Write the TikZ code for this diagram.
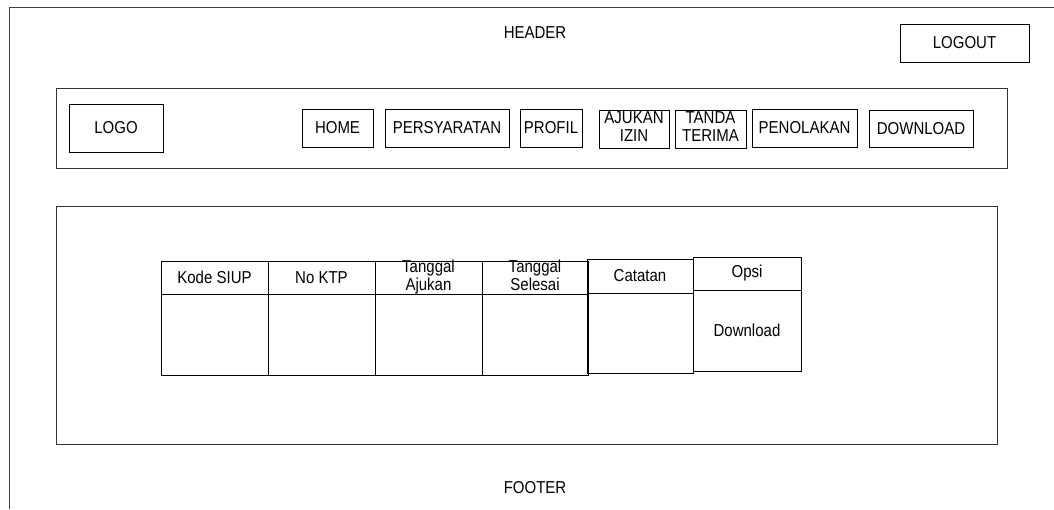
\documentclass[tikz,border=0pt]{standalone}
\usepackage{fontspec}
\setmainfont{Liberation Sans}
\newcommand{\vs}[1]{\scalebox{1}[1.15]{#1}}
\newcommand{\vt}[2]{\scalebox{1}[1.15]{\begin{tabular}{@{}c@{}}#1\\#2\end{tabular}}}
\tikzset{
  box/.style={draw=black, line width=0.9pt, inner sep=0pt, rectangle},
  lbl/.style={inner sep=0pt},
  twoline/.style={label={[lbl]center:#1}},
}
\begin{document}
\begin{tikzpicture}[x=1pt,y=-1pt,font=\fontsize{15}{15}\selectfont]
\useasboundingbox (0,0) rectangle (1054,509);
% outer frame
\draw[line width=0.9pt, draw=black!75] (9,509) -- (9,7) -- (1054,7);
\node[lbl] (header) at (535,33) {\vs{HEADER}};
\node[box, minimum width=129pt, minimum height=38pt] (logout) at (964.5,43) {\vs{LOGOUT}};
% nav bar
\node[box, draw=black!80, minimum width=951pt, minimum height=80pt] (nav) at (531.5,128) {};
\node[box, minimum width=94pt, minimum height=48pt] (logo) at (116,128) {\vs{LOGO}};
\node[box, minimum width=71pt, minimum height=38pt] (home) at (337.5,128) {\vs{HOME}};
\node[box, minimum width=124pt, minimum height=38pt] (pers) at (447,128) {\vs{PERSYARATAN}};
\node[box, minimum width=62pt, minimum height=38pt] (profil) at (551,128) {\vs{PROFIL}};
\node[box, minimum width=70pt, minimum height=38pt, twoline={\vt{AJUKAN}{IZIN}}] (ajukan) at (634,129) {};
\node[box, minimum width=71pt, minimum height=38pt, twoline={\vt{TANDA}{TERIMA}}] (tanda) at (710.5,129) {};
\node[box, minimum width=105pt, minimum height=38pt] (tolak) at (804.5,128) {\vs{PENOLAKAN}};
\node[box, minimum width=104pt, minimum height=37pt] (down) at (921,128.5) {\vs{DOWNLOAD}};
% content
\node[box, draw=black!80, minimum width=941pt, minimum height=238pt] (content) at (526.5,325) {};
% table
\node[box, minimum width=107pt, minimum height=33pt] (h1) at (214.5,277.5) {\vs{Kode SIUP}};
\node[box, minimum width=107pt, minimum height=81pt] (b1) at (214.5,334.5) {};
\node[box, minimum width=107pt, minimum height=33pt] (h2) at (321.5,277.5) {\vs{No KTP}};
\node[box, minimum width=107pt, minimum height=81pt] (b2) at (321.5,334.5) {};
\node[box, minimum width=107pt, minimum height=33pt, twoline={\vt{Tanggal}{Ajukan}}] (h3) at (428.5,277.5) {};
\node[box, minimum width=107pt, minimum height=81pt] (b3) at (428.5,334.5) {};
\node[box, minimum width=106pt, minimum height=33pt, twoline={\vt{Tanggal}{Selesai}}] (h4) at (535,277.5) {};
\node[box, minimum width=106pt, minimum height=81pt] (b4) at (535,334.5) {};
\node[box, minimum width=106pt, minimum height=34pt] (h5) at (640,276) {\vs{Catatan}};
\node[box, minimum width=106pt, minimum height=80pt] (b5) at (640,333) {};
\node[box, minimum width=108pt, minimum height=33pt] (h6) at (747,273.5) {\vs{Opsi}};
\node[box, minimum width=108pt, minimum height=81pt] (b6) at (747,330.5) {\vs{Download}};
\node[lbl] (footer) at (535,488) {\vs{FOOTER}};
\end{tikzpicture}
\end{document}
